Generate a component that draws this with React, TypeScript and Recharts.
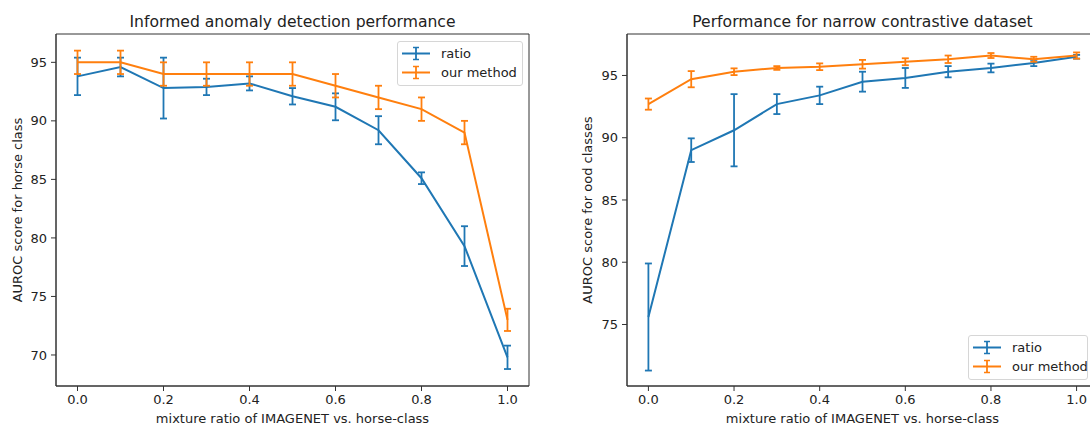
import {
  ErrorBar,
  Label,
  Legend,
  Line,
  LineChart,
  ReferenceArea,
  XAxis,
  YAxis,
} from "recharts";

const BLUE = "#1f77b4";
const ORANGE = "#ff7f0e";
const FONT = "'DejaVu Sans', sans-serif";

const mixRatios = [0, 0.1, 0.2, 0.3, 0.4, 0.5, 0.6, 0.7, 0.8, 0.9, 1.0];
const xTicks = [0, 0.2, 0.4, 0.6, 0.8, 1.0];
const seriesOrder = ["ratio", "ours"];

// left panel: horse class
const horseRatio = [93.8, 94.6, 92.8, 92.9, 93.2, 92.1, 91.2, 89.2, 85.1, 79.3, 69.8];
const horseRatioErr = [1.6, 0.8, 2.6, 0.7, 0.6, 0.7, 1.15, 1.2, 0.5, 1.7, 1.0];
const horseOurs = [95, 95, 94, 94, 94, 94, 93, 92, 91, 89, 73];
const horseOursErr = [1, 1, 1, 1, 1, 1, 1, 1, 1, 1, 0.95];
const horseYTicks = [70, 75, 80, 85, 90, 95];

// right panel: narrow contrastive dataset
const narrowRatio = [75.6, 89.0, 90.6, 92.7, 93.4, 94.5, 94.8, 95.3, 95.6, 96.0, 96.5];
const narrowRatioErr = [4.3, 0.95, 2.9, 0.8, 0.7, 0.8, 0.8, 0.45, 0.35, 0.25, 0.15];
const narrowOurs = [92.7, 94.7, 95.3, 95.6, 95.7, 95.9, 96.1, 96.3, 96.6, 96.3, 96.6];
const narrowOursErr = [0.45, 0.65, 0.27, 0.15, 0.27, 0.35, 0.28, 0.3, 0.2, 0.2, 0.25];
const narrowYTicks = [75, 80, 85, 90, 95];

function buildRows(ratio: number[], ratioErr: number[], ours: number[], oursErr: number[]) {
  return mixRatios.map((x, i) => ({
    x,
    ratio: ratio[i],
    ratioErr: ratioErr[i],
    ours: ours[i],
    oursErr: oursErr[i],
  }));
}

function LegendBox({ payload }: any) {
  const items = [...(payload || [])].sort(
    (a: any, b: any) => seriesOrder.indexOf(a.dataKey) - seriesOrder.indexOf(b.dataKey)
  );
  return (
    <div
      style={{
        border: "1px solid #d6d6d6",
        borderRadius: 3,
        background: "rgba(255,255,255,0.85)",
        padding: "2px 5px 3px 4px",
        fontFamily: FONT,
        fontSize: 13,
        color: "#222",
        textAlign: "left",
      }}
    >
      {items.map((p: any) => (
        <div key={p.value} style={{ display: "flex", alignItems: "center", justifyContent: "flex-start", height: 19 }}>
          <svg width={28} height={19} style={{ marginRight: 11, flex: "none" }}>
            <line x1={0} y1={9.5} x2={28} y2={9.5} stroke={p.color} strokeWidth={2} />
            <line x1={14} y1={3.5} x2={14} y2={15.5} stroke={p.color} strokeWidth={1.8} />
            <line x1={11} y1={3.5} x2={17} y2={3.5} stroke={p.color} strokeWidth={1.5} />
            <line x1={11} y1={15.5} x2={17} y2={15.5} stroke={p.color} strokeWidth={1.5} />
          </svg>
          <span style={{ whiteSpace: "nowrap" }}>{p.value}</span>
        </div>
      ))}
    </div>
  );
}

type PanelProps = {
  left: number;
  width: number;
  margin: { top: number; right: number; bottom: number; left: number };
  yAxisWidth: number;
  rows: ReturnType<typeof buildRows>;
  yDomain: [number, number];
  yTicks: number[];
  yLabel: string;
  yLabelOffset: number;
  legendPos: { left: number; top: number; width: number };
};

function Panel(props: PanelProps) {
  const tickStyle = { fontSize: 13, fill: "#222", fontFamily: FONT };
  return (
    <div style={{ position: "absolute", left: props.left, top: 0 }}>
      <LineChart width={props.width} height={426} data={props.rows} margin={props.margin}>
        <ReferenceArea
          x1={-0.05}
          x2={1.05}
          y1={props.yDomain[0]}
          y2={props.yDomain[1]}
          fill="none"
          stroke="#333"
          strokeWidth={1}
          ifOverflow="visible"
        />
        <XAxis
          type="number"
          dataKey="x"
          domain={[-0.05, 1.05]}
          ticks={xTicks}
          tickFormatter={(v: number) => v.toFixed(1)}
          allowDataOverflow
          height={40}
          tickSize={5}
          tickMargin={4}
          tick={tickStyle}
          axisLine={{ stroke: "#333" }}
          tickLine={{ stroke: "#333" }}
        >
          <Label
            value="mixture ratio of IMAGENET vs. horse-class"
            position="insideBottom"
            offset={3}
            style={{ fontSize: 13, fill: "#222", fontFamily: FONT }}
          />
        </XAxis>
        <YAxis
          type="number"
          domain={props.yDomain}
          ticks={props.yTicks}
          allowDataOverflow
          width={props.yAxisWidth}
          tickSize={5}
          tickMargin={4}
          tick={tickStyle}
          axisLine={{ stroke: "#333" }}
          tickLine={{ stroke: "#333" }}
        >
          <Label
            value={props.yLabel}
            angle={-90}
            position="insideLeft"
            offset={props.yLabelOffset}
            style={{ fontSize: 13, fill: "#222", fontFamily: FONT, textAnchor: "middle" }}
          />
        </YAxis>
        <Legend
          layout="vertical"
          align="center"
          verticalAlign="middle"
          itemSorter={null}
          content={<LegendBox />}
          wrapperStyle={{
            left: props.legendPos.left,
            top: props.legendPos.top,
            width: props.legendPos.width,
            textAlign: "left",
          }}
        />
        <Line
          type="linear"
          dataKey="ratio"
          name="ratio"
          stroke={BLUE}
          strokeWidth={2}
          dot={false}
          activeDot={false}
          isAnimationActive={false}
        >
          <ErrorBar dataKey="ratioErr" direction="y" width={3.5} stroke={BLUE} strokeWidth={1.8} isAnimationActive={false} />
        </Line>
        <Line
          type="linear"
          dataKey="ours"
          name="our method"
          stroke={ORANGE}
          strokeWidth={2}
          dot={false}
          activeDot={false}
          isAnimationActive={false}
        >
          <ErrorBar dataKey="oursErr" direction="y" width={3.5} stroke={ORANGE} strokeWidth={1.8} isAnimationActive={false} />
        </Line>
      </LineChart>
    </div>
  );
}

function Title({ text, left, width }: { text: string; left: number; width: number }) {
  return (
    <div
      style={{
        position: "absolute",
        left,
        width,
        top: 13,
        textAlign: "center",
        fontFamily: FONT,
        fontSize: 15.6,
        lineHeight: "18px",
        color: "#222",
        whiteSpace: "nowrap",
      }}
    >
      {text}
    </div>
  );
}

export default function App() {
  const horseRows = buildRows(horseRatio, horseRatioErr, horseOurs, horseOursErr);
  const narrowRows = buildRows(narrowRatio, narrowRatioErr, narrowOurs, narrowOursErr);

  return (
    <div
      style={{
        position: "absolute",
        left: 0,
        top: 0,
        width: 1090,
        height: 426,
        overflow: "hidden",
        background: "#fff",
      }}
    >
      <Panel
        left={0}
        width={545}
        margin={{ top: 34, right: 16, bottom: 0, left: 6 }}
        yAxisWidth={50}
        rows={horseRows}
        yDomain={[67.35, 97.42]}
        yTicks={horseYTicks}
        yLabel="AUROC score for horse class"
        yLabelOffset={11}
        legendPos={{ left: 397, top: 41, width: 126 }}
      />
      <Panel
        left={545}
        width={560}
        margin={{ top: 34, right: 7, bottom: 0, left: 7 }}
        yAxisWidth={75}
        rows={narrowRows}
        yDomain={[70.06, 98.33]}
        yTicks={narrowYTicks}
        yLabel="AUROC score for ood classes"
        yLabelOffset={35}
        legendPos={{ left: 423, top: 335, width: 120 }}
      />
      <Title text="Informed anomaly detection performance" left={56} width={473} />
      <Title text="Performance for narrow contrastive dataset" left={627} width={471} />
    </div>
  );
}
